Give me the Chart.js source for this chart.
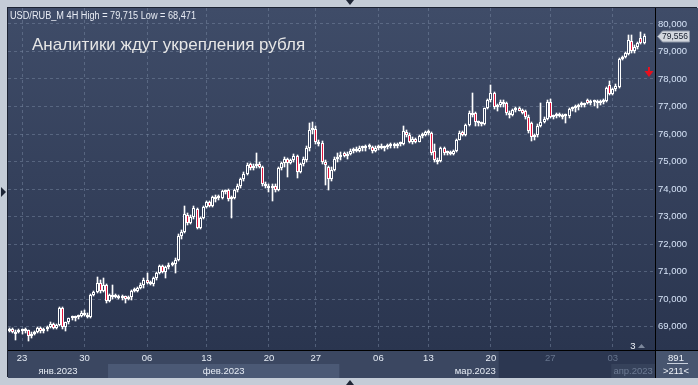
<!DOCTYPE html>
<html><head><meta charset="utf-8">
<script src="https://cdn.jsdelivr.net/npm/chart.js@4.4.1/dist/chart.umd.min.js"></script>
<style>
html,body{margin:0;padding:0;}
body{width:698px;height:385px;background:#c4ccd7;position:relative;overflow:hidden;}
#wrap{position:absolute;left:8px;top:8px;width:690px;height:370px;box-shadow:-1px -1px 0 #1c2333;}
.tri{position:absolute;width:0;height:0;}
</style></head><body>
<div class="tri" style="left:346px;top:0;border-left:4px solid transparent;border-right:4px solid transparent;border-top:5px solid #1e2636;"></div>
<div class="tri" style="left:346px;top:380px;border-left:4px solid transparent;border-right:4px solid transparent;border-bottom:5px solid #1e2636;"></div>
<div class="tri" style="left:1px;top:187px;border-top:5px solid transparent;border-bottom:5px solid transparent;border-left:5px solid #1e2636;"></div>
<div id="wrap"><canvas id="c" width="690" height="370"></canvas></div>
<script>
// ---- data (4H candles, USD/RUB_M) ----
const opens = [68.85,68.92,68.74,68.82,68.86,68.83,68.86,68.66,68.74,68.80,68.95,68.83,68.90,68.98,69.10,68.95,69.05,69.68,69.00,69.15,69.30,69.32,69.35,69.38,69.50,69.42,69.35,70.15,70.25,70.60,70.28,70.50,69.92,70.15,70.08,70.12,70.05,70.10,70.02,70.08,70.30,70.28,70.40,70.52,70.70,70.60,70.55,70.75,70.95,71.20,71.00,71.15,71.25,71.28,71.42,72.30,72.45,73.05,72.78,73.00,73.28,72.60,72.95,73.33,73.52,73.38,73.62,73.72,73.66,73.92,73.96,73.62,73.68,73.95,74.12,74.35,74.55,74.90,74.75,74.85,74.92,74.80,74.18,74.10,74.05,74.12,73.95,74.75,74.95,75.08,74.95,75.05,75.20,74.62,74.90,75.05,75.50,76.15,76.20,75.70,75.68,74.98,74.80,74.35,74.70,75.10,75.15,75.30,75.20,75.28,75.40,75.45,75.40,75.50,75.48,75.55,75.52,75.40,75.50,75.55,75.48,75.52,75.58,75.62,75.55,75.62,75.65,76.08,75.98,75.72,75.82,75.72,75.92,75.98,76.08,76.02,75.40,75.05,75.02,75.48,75.30,75.36,75.28,75.38,75.80,76.08,75.96,76.32,76.70,76.75,76.45,76.40,76.36,76.94,77.22,77.48,76.98,77.05,77.18,77.12,76.75,76.70,76.88,76.95,76.88,76.82,76.62,76.40,75.88,75.95,76.30,76.45,76.55,77.18,76.62,76.65,76.70,76.66,76.68,76.64,76.92,76.95,77.00,77.04,77.10,77.24,77.14,77.18,77.20,77.12,77.16,77.20,77.78,77.44,77.62,77.72,78.72,78.80,78.92,79.38,79.00,79.18,79.48,79.32];
const highs = [68.96,68.95,68.86,68.90,68.92,68.95,68.88,68.80,68.85,68.98,68.98,68.95,69.02,69.15,69.12,69.08,69.72,69.70,69.18,69.33,69.38,69.40,69.42,69.55,69.60,69.50,70.18,70.30,70.80,70.70,70.78,70.55,70.20,70.50,70.18,70.15,70.15,70.12,70.12,70.33,70.40,70.45,70.58,70.75,70.95,70.66,70.80,71.00,71.25,71.25,71.20,71.30,71.35,71.50,72.35,72.50,73.38,73.12,73.05,73.38,73.32,73.00,73.38,73.58,73.58,73.75,73.78,73.80,73.98,73.98,74.00,73.75,74.00,74.18,74.40,74.62,74.95,74.95,74.92,75.30,74.98,74.82,74.25,74.20,74.20,74.18,74.80,75.00,75.15,75.12,75.10,75.28,75.25,74.95,75.15,75.55,76.40,76.42,76.30,75.78,75.75,75.05,74.85,74.80,75.15,75.30,75.35,75.35,75.35,75.45,75.50,75.52,75.55,75.58,75.60,75.62,75.58,75.55,75.60,75.62,75.58,75.65,75.68,75.66,75.68,75.70,76.30,76.15,76.05,75.88,75.85,75.98,76.02,76.12,76.14,76.06,75.64,75.12,75.52,75.52,75.40,75.40,75.42,75.82,76.10,76.12,76.35,76.82,77.50,76.80,76.48,76.45,76.96,77.26,77.78,77.52,77.10,77.22,77.24,77.15,76.85,76.92,76.98,76.98,76.92,76.88,76.68,76.45,76.00,76.35,77.13,76.62,77.24,77.26,76.70,76.75,76.78,76.72,76.72,76.96,77.00,77.05,77.08,77.15,77.14,77.28,77.22,77.25,77.24,77.22,77.28,77.72,77.93,77.68,77.82,78.76,78.84,78.98,79.60,79.60,79.22,79.35,79.715,79.62];
const lows = [68.82,68.76,68.53,68.75,68.74,68.78,68.47,68.60,68.70,68.76,68.78,68.75,68.85,68.95,68.90,68.90,69.02,68.92,68.84,69.10,69.25,69.22,69.28,69.35,69.40,69.32,69.32,70.10,70.22,70.22,70.25,69.85,69.88,70.02,70.03,70.00,69.98,69.85,69.96,69.97,70.25,70.25,70.35,70.42,70.55,70.50,70.48,70.68,70.92,70.95,70.78,71.08,71.20,70.95,71.40,72.20,72.40,72.70,72.72,72.92,72.55,72.55,72.90,73.30,73.33,73.35,73.52,73.60,73.62,73.82,73.55,72.95,73.62,73.90,74.05,74.30,74.50,74.70,74.70,74.78,74.75,74.10,74.02,73.88,73.56,73.90,73.92,74.70,74.80,74.45,74.92,75.00,74.40,74.58,74.85,75.00,75.40,76.00,75.65,75.55,74.92,74.15,73.96,74.30,74.65,75.00,75.05,75.15,75.10,75.22,75.30,75.35,75.35,75.40,75.40,75.45,75.30,75.35,75.42,75.45,75.40,75.45,75.50,75.50,75.50,75.55,75.60,75.90,75.68,75.65,75.68,75.70,75.86,75.94,75.98,75.25,75.00,74.92,74.98,75.25,75.22,75.22,75.24,75.35,75.78,75.92,75.94,76.28,76.62,76.30,76.28,76.30,76.33,76.90,77.18,76.92,76.85,76.98,77.00,76.70,76.60,76.65,76.80,76.82,76.72,76.55,76.05,75.75,75.80,75.90,76.25,76.40,76.50,76.58,76.55,76.58,76.62,76.55,76.40,76.60,76.85,76.80,76.88,76.98,77.00,77.10,77.05,77.02,76.95,77.05,77.10,77.16,77.40,77.40,77.58,77.68,78.70,78.76,78.88,78.95,78.95,79.10,79.28,79.28];
const closes = [68.92,68.80,68.82,68.86,68.83,68.86,68.66,68.74,68.80,68.95,68.83,68.90,68.98,69.10,68.95,69.05,69.68,69.00,69.15,69.30,69.32,69.35,69.38,69.50,69.42,69.35,70.15,70.25,70.60,70.28,70.50,69.92,70.15,70.08,70.12,70.05,70.10,70.02,70.08,70.30,70.28,70.40,70.52,70.70,70.60,70.55,70.75,70.95,71.20,71.00,71.15,71.25,71.28,71.42,72.30,72.45,73.10,72.78,73.00,73.30,72.60,72.95,73.33,73.52,73.38,73.70,73.72,73.66,73.92,73.88,73.62,73.68,73.95,74.12,74.35,74.55,74.88,74.75,74.85,74.90,74.80,74.18,74.10,74.05,74.12,73.95,74.75,74.95,75.08,74.95,75.05,75.20,74.62,74.90,75.10,75.50,76.15,76.22,75.70,75.65,74.98,74.88,74.35,74.70,75.10,75.15,75.25,75.20,75.28,75.40,75.45,75.40,75.50,75.48,75.55,75.52,75.40,75.50,75.55,75.48,75.52,75.58,75.62,75.55,75.62,75.65,76.10,75.95,75.72,75.82,75.72,75.94,75.98,76.08,76.04,75.32,75.05,75.00,75.48,75.30,75.36,75.28,75.38,75.78,76.05,75.96,76.32,76.78,76.75,76.45,76.40,76.36,76.94,77.22,77.48,76.98,77.05,77.18,77.10,76.75,76.70,76.88,76.92,76.85,76.78,76.62,76.12,75.88,75.95,76.30,76.45,76.55,77.18,76.62,76.65,76.70,76.66,76.62,76.64,76.92,76.95,77.00,77.04,77.10,77.05,77.14,77.18,77.20,77.12,77.16,77.24,77.68,77.44,77.62,77.76,78.72,78.80,78.95,79.42,79.00,79.18,79.30,79.32,79.556];
const slotCount = 207;                       // candle slots on the time axis
const tickIndex = [4,24,44,63,83,98,118,134,154,173,193];
const tickLabels = ['23','30','06','13','20','27','06','13','20','27','03'];
const yTicks = [69,70,71,72,73,74,75,76,77,78,79,80];
const monthStart = [0,32,106,193];
const monthLabels = ['янв.2023','фев.2023','мар.2023','апр.2023'];
const futureStart = 157;
const lastPrice = 79.556;

const FONT = '"Liberation Sans", Arial, sans-serif';
const RED = '#e0143c';
const GRID = 'rgba(120,136,162,0.5)';
let grad = null;
function plotGrad(chart){
  if(!grad){
    grad = chart.ctx.createLinearGradient(0,0,0,342);
    grad.addColorStop(0,'#3f4c68');
    grad.addColorStop(1,'#2a354f');
  }
  return grad;
}

// snap bar elements to whole pixels so wicks / bodies render crisp
const snap = {
  id:'snap',
  beforeDatasetsDraw(chart){
    chart.getSortedVisibleDatasetMetas().forEach(meta=>{
      meta.data.forEach(el=>{
        el.x = Math.floor(el.x) + 0.5;
        el.y = Math.round(el.y);
        el.base = Math.round(el.base);
      });
    });
  }
};

const deco = {
  id:'deco',
  beforeDraw(chart){
    const {ctx, chartArea:a, width, height} = chart;
    const slotW = (a.right - a.left)/slotCount;
    const edge = i => a.left + i*slotW;
    ctx.save();
    ctx.fillStyle = plotGrad(chart);
    ctx.fillRect(0,0,width,a.bottom);
    ctx.fillStyle = '#3b4761';
    ctx.fillRect(0,a.bottom,width,height-a.bottom);
    ctx.fillStyle = '#4b5975';
    ctx.fillRect(edge(monthStart[1]), a.bottom+14, edge(monthStart[2])-edge(monthStart[1]), height-a.bottom-14);
    ctx.fillStyle = '#2c3751';
    ctx.fillRect(edge(futureStart), a.bottom, a.right-edge(futureStart), height-a.bottom);
    ctx.fillStyle = '#36425b';
    ctx.fillRect(edge(monthStart[3]), a.bottom+14, a.right-edge(monthStart[3]), height-a.bottom-14);
    ctx.fillStyle = '#47556f';
    ctx.fillRect(a.right, a.bottom, width-a.right, height-a.bottom);
    ctx.restore();
  },
  afterDraw(chart){
    const {ctx, chartArea:a, width, height} = chart;
    const ys = chart.scales.y;
    const slotW = (a.right - a.left)/slotCount;
    const edge = i => a.left + i*slotW;
    ctx.save();
    ctx.fillStyle = '#000';
    ctx.fillRect(a.right, 0, 1, height);
    ctx.fillRect(0, a.bottom, width, 1);
    ctx.font = '9.5px ' + FONT;
    ctx.textAlign = 'center';
    ctx.textBaseline = 'middle';
    monthLabels.forEach((m,k)=>{
      const s = edge(monthStart[k]);
      const e = k < monthStart.length-1 ? edge(monthStart[k+1]) : a.right;
      ctx.fillStyle = k === 3 ? '#6c7a93' : '#e6ecf5';
      ctx.fillText(m, (s+e)/2, a.bottom+21);
    });
    ctx.fillStyle = '#eef2f8';
    ctx.fillText('891', 668, a.bottom+8);
    ctx.fillText('>211<', 668, a.bottom+21);
    ctx.fillStyle = '#c8d0dc';
    ctx.fillRect(659, a.bottom+13, 21, 1);
    ctx.fillStyle = '#eef2f8';
    ctx.fillText('3', 625, a.bottom-4);
    ctx.fillStyle = '#7d889c';
    ctx.beginPath(); ctx.moveTo(630,a.bottom-2); ctx.lineTo(633.5,a.bottom-6); ctx.lineTo(637,a.bottom-2); ctx.closePath(); ctx.fill();
    ctx.textAlign = 'left';
    ctx.textBaseline = 'alphabetic';
    ctx.fillStyle = '#e8ecf4';
    ctx.font = '10px ' + FONT;
    ctx.fillText('USD/RUB_M 4H High = 79,715 Low = 68,471', 2, 10.5, 186);
    ctx.fillStyle = '#e6e6e6';
    ctx.font = '17px ' + FONT;
    ctx.fillText('Аналитики ждут укрепления рубля', 24, 42, 279);
    const yp = Math.round(ys.getPixelForValue(lastPrice)) + 0.5;
    ctx.beginPath();
    ctx.moveTo(649.5, yp); ctx.lineTo(654.5, yp-5.5); ctx.lineTo(681.5, yp-5.5); ctx.lineTo(681.5, yp+5.5); ctx.lineTo(654.5, yp+5.5); ctx.closePath();
    ctx.fillStyle = '#d3d7de'; ctx.fill();
    ctx.strokeStyle = '#8e97a8'; ctx.lineWidth = 1; ctx.stroke();
    ctx.fillStyle = '#141c2c';
    ctx.font = '9.5px ' + FONT;
    ctx.textBaseline = 'middle';
    ctx.fillText(lastPrice.toFixed(3).replace('.',','), 654, yp, 26);
    ctx.fillStyle = '#e8101e';
    ctx.fillRect(640, 59, 2, 6);
    ctx.beginPath(); ctx.moveTo(636.5,63); ctx.lineTo(645.5,63); ctx.lineTo(641,69); ctx.closePath(); ctx.fill();
    ctx.restore();
  }
};

Chart.defaults.font.family = FONT;
new Chart(document.getElementById('c'), {
  type:'bar',
  data:{
    labels: Array.from({length:slotCount}, (_,i)=>i),
    datasets:[
      { label:'wick', data: lows.map((l,i)=>[l, highs[i]]), backgroundColor:'#ffffff', borderWidth:0,
        barThickness:1, grouped:false, order:2 },
      { label:'body', data: opens.map((o,i)=>[o, closes[i]]),
        backgroundColor: c => closes[c.dataIndex] < opens[c.dataIndex] ? RED : plotGrad(c.chart),
        borderColor:'#ffffff', borderWidth:1, borderSkipped:false, barThickness:3, minBarLength:2,
        inflateAmount:0, grouped:false, order:1 }
    ]
  },
  options:{
    responsive:false, animation:false, devicePixelRatio:1,
    layout:{padding:0},
    plugins:{legend:{display:false}, tooltip:{enabled:false}},
    scales:{
      x:{ type:'category', offset:true,
          grid:{offset:false, color:GRID, lineWidth:1, drawTicks:false},
          border:{display:true, color:'#000', width:1, dash:[3,3]},
          ticks:{autoSkip:false, maxRotation:0, minRotation:0, padding:3, font:{size:9.5},
                 color: c => c.index >= 9 ? '#66748d' : '#e6ecf5',
                 callback:(v,i)=> tickLabels[i] ?? ''},
          afterBuildTicks: s => { s.ticks = tickIndex.map(v=>({value:v})); },
          afterFit: s => { s.height = 28; s.paddingLeft = 0; s.paddingRight = 0; } },
      y:{ position:'right', min:68.15, max:80.58,
          grid:{color:GRID, lineWidth:1, drawTicks:false},
          border:{display:true, color:'#000', width:1, dash:[3,3]},
          ticks:{padding:3, color:'#d6e3f7', font:{size:9.5},
                 callback: v => Number(v).toFixed(3).replace('.',',')},
          afterBuildTicks: s => { s.ticks = yTicks.map(v=>({value:v})); },
          afterFit: s => { s.width = 43; s.paddingTop = 0; s.paddingBottom = 0; } }
    }
  },
  plugins:[snap, deco]
});
</script>
</body></html>
